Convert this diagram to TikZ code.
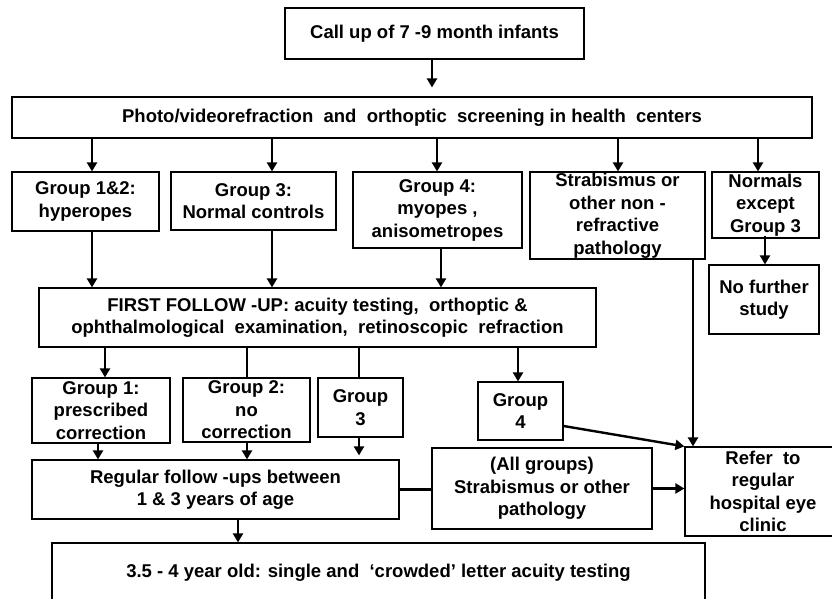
\documentclass[tikz,border=0pt]{standalone}
\usepackage{fontspec}
\setmainfont{Liberation Sans}
\usetikzlibrary{arrows.meta}
\newcommand\FBox[6]{\node[box, minimum width=#4pt-#2pt, minimum height=#5pt-#3pt] (#1) at ({(#2+#4)/2},{(#3+#5)/2}) {#6};}
\begin{document}
\begin{tikzpicture}[x=1pt,y=-1pt,
  box/.style={draw, line width=1.2pt, inner sep=0pt, align=center, font=\bfseries\fontsize{18.5}{22.5}\selectfont},
  arr/.style={line width=2.4pt, -{Triangle[width=10pt,length=9pt]}},
  ln/.style={line width=2.4pt}]
\clip (0,0) rectangle (832,598);
\fill[white] (0,0) rectangle (832,598);
\FBox{top}{285}{8}{584}{59}{Call up of 7 -9 month infants}
\FBox{scr}{12}{97}{812}{138}{Photo/videorefraction \ and \ orthoptic \ screening in health \ centers}
\FBox{g12}{12}{172}{159}{231}{Group 1\&2:\\hyperopes}
\FBox{g3a}{171}{172}{336}{230}{Group 3:\\Normal controls}
\FBox{g4a}{353}{172}{522}{248}{Group 4:\\myopes ,\\anisometropes}
\FBox{strab}{530}{172}{705}{259}{Strabismus or\\other non -\\refractive\\pathology}
\FBox{norm}{712}{172}{819}{238}{Normals\\except\\Group 3}
\FBox{nofur}{709}{265}{819}{334}{No further\\study}
\FBox{ffu}{39}{288}{596}{347}{FIRST FOLLOW -UP: acuity testing, \ orthoptic \&\\ophthalmological \ examination, \ retinoscopic \ refraction}
\FBox{g1}{32}{378}{170}{443}{Group 1:\\prescribed\\correction}
\FBox{g2}{183}{378}{310}{442}{Group 2:\\no\\correction}
\FBox{g3b}{318}{378}{403}{437}{Group\\3}
\FBox{g4b}{478}{382}{563}{440}{Group\\4}
\FBox{reg}{32}{460}{399}{519}{Regular follow -ups between\\1 \& 3 years of age}
\FBox{allg}{432}{448}{652}{529}{(All groups)\\Strabismus or other\\pathology}
\FBox{refer}{685}{447}{841}{536}{Refer \ to\\regular\\hospital eye\\clinic}
\FBox{final}{52}{543}{705}{603}{3.5 - 4 year old: single and \ ‘crowded’ letter acuity testing}
% connectors
\draw[arr, shorten >=9pt] (432,0 |- top.south) -- (432,0 |- scr.north);
\draw[arr] (92,0 |- scr.south) -- (92,0 |- g12.north);
\draw[arr] (272,0 |- scr.south) -- (272,0 |- g3a.north);
\draw[arr] (437,0 |- scr.south) -- (437,0 |- g4a.north);
\draw[arr] (618,0 |- scr.south) -- (618,0 |- strab.north);
\draw[arr] (758,0 |- scr.south) -- (758,0 |- norm.north);
\draw[arr] ([yshift=3pt]765,0 |- norm.south) -- (765,0 |- nofur.north);
\draw[arr] (92,0 |- g12.south) -- (92,0 |- ffu.north);
\draw[arr] (272,0 |- g3a.south) -- (272,0 |- ffu.north);
\draw[arr] (441,0 |- g4a.south) -- (441,0 |- ffu.north);
\draw[arr] (105,0 |- ffu.south) -- (105,0 |- g1.north);
\draw[ln] (247,0 |- ffu.south) -- (247,0 |- g2.north);
\draw[ln] (359,0 |- ffu.south) -- (359,0 |- g3b.north);
\draw[arr] (518,0 |- ffu.south) -- (518,0 |- g4b.north);
\draw[arr] (693,0 |- strab.south) -- (693,0 |- refer.north);
\draw[arr] ([yshift=-15pt]g4b.east) -- (refer.north west);
\draw[arr] (98,0 |- g1.south) -- (98,0 |- reg.north);
\draw[arr] (247,0 |- g2.south) -- (247,0 |- reg.north);
\draw[arr, shorten >=4pt] (359,0 |- g3b.south) -- (359,0 |- reg.north);
\draw[ln] (reg.east) -- (reg.east -| allg.west);
\draw[arr] (allg.east) -- (allg.east -| refer.west);
\draw[arr] (238,0 |- reg.south) -- (238,0 |- final.north);
\end{tikzpicture}
\end{document}
